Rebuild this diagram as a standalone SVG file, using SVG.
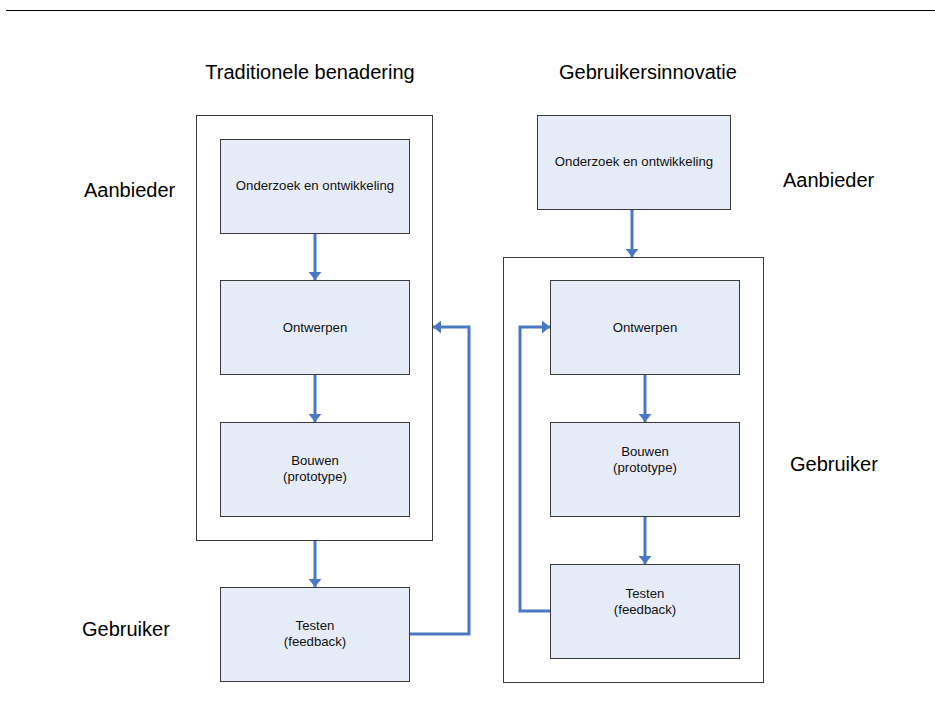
<svg xmlns="http://www.w3.org/2000/svg" width="935" height="711" viewBox="0 0 935 711">
<style>
.bg{fill:#fff}
.box{fill:#E6ECF7;stroke:#3a3a3a;stroke-width:1}
.frame{fill:#fff;stroke:#3a3a3a;stroke-width:1}
.t{font-family:"Liberation Sans",Arial,sans-serif;font-size:13.2px;fill:#111;text-anchor:middle}
.h{font-family:"Liberation Sans",Arial,sans-serif;font-size:20px;fill:#000}
.c{fill:none;stroke:#4A78C2;stroke-width:3}
</style>
<defs>
<marker id="ah" viewBox="0 0 8 13" refX="8" refY="6.5" markerWidth="8" markerHeight="13" markerUnits="userSpaceOnUse" orient="auto">
<path d="M0,0 L8,6.5 L0,13 Z" fill="#4A78C2"/>
</marker>
</defs>
<rect class="bg" width="935" height="711"/>
<line x1="6" y1="10.5" x2="935" y2="10.5" stroke="#000" stroke-width="1.2"/>
<g id="labels">
<text class="h" x="310" y="79" text-anchor="middle">Traditionele benadering</text>
<text class="h" x="648" y="79" text-anchor="middle">Gebruikersinnovatie</text>
<text class="h" x="84" y="197">Aanbieder</text>
<text class="h" x="783" y="187">Aanbieder</text>
<text class="h" x="82" y="636">Gebruiker</text>
<text class="h" x="790" y="471">Gebruiker</text>
</g>
<g id="frame-left"><rect class="frame" x="196.5" y="115.5" width="236" height="425"/></g>
<g id="frame-right"><rect class="frame" x="503.5" y="257.5" width="260" height="425"/></g>
<g id="L1"><rect class="box" x="220.5" y="139.5" width="189" height="94"/><text class="t" x="315" y="190">Onderzoek en ontwikkeling</text></g>
<g id="L2"><rect class="box" x="220.5" y="280.5" width="189" height="94"/><text class="t" x="315" y="332">Ontwerpen</text></g>
<g id="L3"><rect class="box" x="220.5" y="422.5" width="189" height="94"/><text class="t" x="315" y="465">Bouwen</text><text class="t" x="315" y="481">(prototype)</text></g>
<g id="L4"><rect class="box" x="220.5" y="587.5" width="189" height="94"/><text class="t" x="315" y="630">Testen</text><text class="t" x="315" y="646">(feedback)</text></g>
<g id="R1"><rect class="box" x="537.5" y="115.5" width="193" height="94"/><text class="t" x="634" y="166">Onderzoek en ontwikkeling</text></g>
<g id="R2"><rect class="box" x="550.5" y="280.5" width="189" height="94"/><text class="t" x="645" y="332">Ontwerpen</text></g>
<g id="R3"><rect class="box" x="550.5" y="422.5" width="189" height="94"/><text class="t" x="645" y="456">Bouwen</text><text class="t" x="645" y="472">(prototype)</text></g>
<g id="R4"><rect class="box" x="550.5" y="564.5" width="189" height="94"/><text class="t" x="645" y="598">Testen</text><text class="t" x="645" y="614">(feedback)</text></g>
<g id="connectors">
<path class="c" d="M315,234 V280" marker-end="url(#ah)"/>
<path class="c" d="M315,375 V422" marker-end="url(#ah)"/>
<path class="c" d="M315,541 V587" marker-end="url(#ah)"/>
<path class="c" d="M410,634 H469 V327 H433" marker-end="url(#ah)"/>
<path class="c" d="M632,210 V257" marker-end="url(#ah)"/>
<path class="c" d="M645,375 V422" marker-end="url(#ah)"/>
<path class="c" d="M645,517 V564" marker-end="url(#ah)"/>
<path class="c" d="M550,611 H520 V327 H550" marker-end="url(#ah)"/>
</g>
</svg>
